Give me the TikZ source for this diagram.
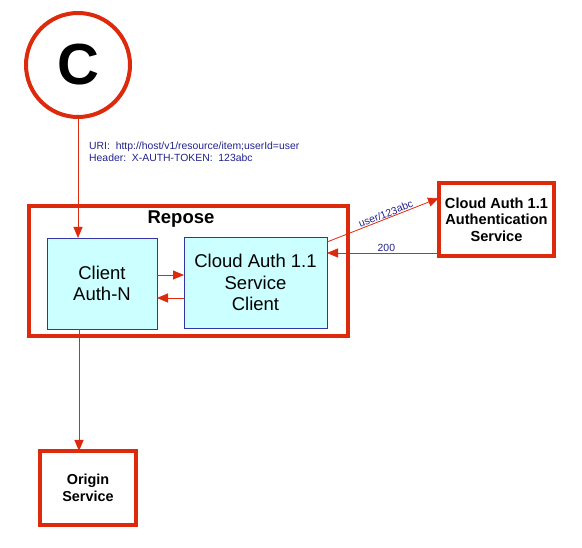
\documentclass[tikz,border=0pt]{standalone}
\usepackage{fontspec}
\setmainfont{Liberation Sans}
\usetikzlibrary{arrows.meta,calc,shadows}
\definecolor{rd}{RGB}{222,42,12}
\definecolor{cy}{RGB}{204,255,255}
\definecolor{bl}{RGB}{51,51,170}
\definecolor{nv}{RGB}{34,34,140}
\begin{document}
\begin{tikzpicture}[x=1pt,y=-1pt,
  redbox/.style={draw=rd,line width=4pt,fill=white,rectangle,inner sep=0pt,outer sep=0pt,
     drop shadow={shadow xshift=1.5pt,shadow yshift=-1.5pt,fill=black!40,opacity=0.5}},
  innerbox/.style={draw=bl,line width=0.8pt,fill=cy,rectangle,inner sep=0pt,outer sep=0pt,align=center,font=\fontsize{18.5}{21.5}\selectfont},
  conn/.style={draw=rd,line width=0.8pt,-{Triangle[length=11pt,width=9pt]}},
  lbl/.style={text=nv,font=\fontsize{10.4}{12}\selectfont}]
\useasboundingbox (0,0) rectangle (582,548);
% client circle
\node[circle,draw=rd,line width=4pt,fill=white,minimum size=104pt,inner sep=0pt,outer sep=0pt,
  drop shadow={shadow xshift=1.5pt,shadow yshift=-1.5pt,fill=black!40,opacity=0.5},
  font=\fontsize{58}{58}\selectfont\bfseries] (C) at (78,65) {C};
% repose
\node[redbox,line width=4.5pt,minimum width=319pt,minimum height=130pt] (repose) at (188.5,271) {};
\node[font=\fontsize{18.5}{21}\selectfont\bfseries] (reposelbl) at (181,219) {Repose};
\node[innerbox,minimum width=110pt,minimum height=91pt] (client) at (102,283.5) {Client\\Auth-N};
\node[innerbox,minimum width=143pt,minimum height=91pt] (cloudclient) at (255.5,282.5) {Cloud Auth 1.1\\Service\\Client};
% auth service
\node[redbox,minimum width=115pt,minimum height=73pt,align=center,font=\fontsize{14.6}{16.5}\selectfont\bfseries] (auth) at (496.5,219.5) {Cloud Auth 1.1\\Authentication\\Service};
% origin
\node[redbox,minimum width=96pt,minimum height=74pt,align=center,font=\fontsize{14.4}{16.5}\selectfont\bfseries] (origin) at (88,488) {Origin\\Service};
% request label
\node[lbl,anchor=north west,align=left,inner sep=0pt] (reqlbl) at (89,142) {URI:\ \ http://host/v1/resource/item;userId=user\\Header:\ \ X-AUTH-TOKEN:\ \ 123abc};
% connectors
\draw[conn] (C.south) -- (C.south |- client.north);
\coordinate (cb) at ($(client.south)+(-23,0)$);
\draw[conn] (cb) -- (cb |- origin.north);
\coordinate (a1) at ($(client.east)+(0,-8.5)$);
\draw[conn] (a1) -- (a1 -| cloudclient.west);
\coordinate (a2) at ($(cloudclient.west)+(0,15.5)$);
\draw[conn] (a2) -- (a2 -| client.east);
\coordinate (a3) at ($(cloudclient.north east)+(0,5)$);
\coordinate (a4) at ($(auth.west)+(0,-21.5)$);
\draw[conn] (a3) -- node[lbl,sloped,above,pos=0.54,inner sep=0.5pt] {user/123abc} (a4);
\coordinate (a5) at ($(auth.west)+(0,33.5)$);
\draw[conn] (a5) -- node[lbl,above,pos=0.47,inner sep=0.5pt] {200} (a5 -| cloudclient.east);
\end{tikzpicture}
\end{document}
